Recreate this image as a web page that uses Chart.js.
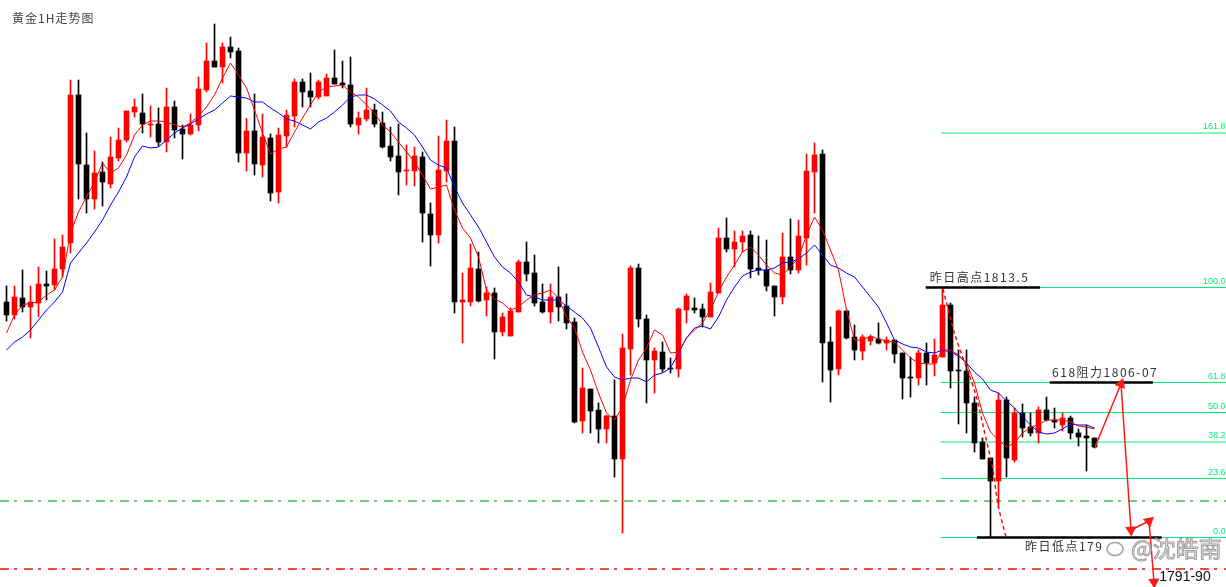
<!DOCTYPE html>
<html lang="zh">
<head>
<meta charset="utf-8">
<title>黄金1H走势图</title>
<script src="https://cdn.jsdelivr.net/npm/chart.js@4.4.1/dist/chart.umd.min.js"></script>
<style>
  html, body { margin: 0; padding: 0; background: #fff; }
  #wrap { position: relative; width: 1226px; height: 587px; }
</style>
</head>
<body>
<div id="wrap"><canvas id="goldChart"></canvas></div>
<script>
// hourly candles, oldest first
const opens = [
  1812.34, 1811.30, 1812.66, 1811.94, 1812.26, 1813.78, 1813.70, 1814.98, 1817.06, 1828.90,
  1823.30, 1820.58, 1822.74, 1821.78, 1823.86, 1825.30, 1827.54, 1827.46, 1826.50, 1826.58,
  1825.14, 1827.94, 1826.18, 1825.78, 1826.50, 1829.30, 1831.62, 1831.14, 1832.74, 1832.42,
  1824.26, 1826.02, 1823.30, 1825.46, 1821.14, 1825.62, 1827.22, 1829.94, 1829.22, 1828.74,
  1828.82, 1830.26, 1829.86, 1829.70, 1826.50, 1826.98, 1827.70, 1826.66, 1824.82, 1824.02,
  1822.82, 1822.82, 1823.94, 1819.38, 1817.70, 1822.82, 1825.22, 1812.34, 1812.34, 1814.98,
  1812.50, 1813.06, 1809.94, 1809.62, 1811.54, 1815.54, 1814.66, 1812.34, 1811.54, 1812.74,
  1812.02, 1810.74, 1802.82, 1805.38, 1803.70, 1802.18, 1803.22, 1799.78, 1808.58, 1815.06,
  1810.98, 1807.70, 1808.34, 1807.06, 1806.98, 1811.70, 1811.86, 1811.78, 1811.14, 1813.06,
  1817.46, 1816.58, 1817.14, 1817.70, 1815.06, 1814.90, 1813.62, 1812.74, 1815.94, 1814.90,
  1817.46, 1822.74, 1824.18, 1809.14, 1806.98, 1811.62, 1809.54, 1808.42, 1809.22, 1809.38,
  1809.06, 1809.30, 1808.26, 1806.34, 1806.26, 1808.26, 1807.46, 1807.94, 1812.10, 1806.90,
  1806.82, 1804.26, 1801.14, 1799.86, 1798.02, 1804.50, 1799.70, 1803.46, 1802.34, 1801.86,
  1803.70, 1802.90, 1802.50, 1803.06, 1801.86, 1801.62, 1801.46
];
const highs = [
  1813.62, 1813.62, 1814.90, 1813.62, 1815.14, 1814.82, 1817.38, 1817.70, 1830.10, 1830.10,
  1825.86, 1824.42, 1823.54, 1825.54, 1826.26, 1827.62, 1828.58, 1828.98, 1828.02, 1827.86,
  1829.46, 1828.42, 1826.50, 1827.38, 1830.34, 1833.06, 1834.58, 1833.06, 1833.54, 1832.66,
  1827.02, 1828.98, 1827.38, 1825.78, 1826.26, 1827.70, 1830.18, 1830.18, 1830.66, 1830.10,
  1830.58, 1832.50, 1831.62, 1831.94, 1827.54, 1829.46, 1828.18, 1827.54, 1826.34, 1826.58,
  1824.90, 1824.74, 1824.34, 1820.26, 1825.62, 1826.90, 1826.34, 1814.66, 1816.98, 1816.34,
  1813.54, 1813.46, 1811.46, 1811.86, 1815.70, 1817.14, 1816.10, 1813.78, 1813.78, 1815.14,
  1812.98, 1811.06, 1807.06, 1805.38, 1804.26, 1803.30, 1806.10, 1809.78, 1815.22, 1815.38,
  1811.30, 1808.66, 1809.14, 1807.86, 1811.86, 1812.98, 1812.66, 1812.18, 1813.86, 1818.26,
  1819.06, 1818.02, 1818.02, 1818.02, 1817.62, 1817.30, 1813.62, 1817.86, 1818.98, 1818.90,
  1824.18, 1825.06, 1824.50, 1810.34, 1811.70, 1811.70, 1810.50, 1809.70, 1809.70, 1810.66,
  1809.54, 1809.30, 1808.26, 1807.94, 1808.50, 1809.06, 1809.38, 1813.50, 1812.26, 1808.50,
  1808.50, 1804.74, 1801.46, 1799.86, 1805.06, 1804.74, 1803.86, 1804.18, 1803.46, 1803.94,
  1804.74, 1803.86, 1803.46, 1803.22, 1802.18, 1802.50, 1801.46
];
const lows = [
  1810.82, 1810.98, 1811.54, 1809.46, 1811.14, 1812.50, 1813.30, 1814.34, 1816.26, 1820.58,
  1819.46, 1819.78, 1820.02, 1821.46, 1823.62, 1825.14, 1827.14, 1825.86, 1825.54, 1824.82,
  1824.34, 1825.46, 1823.78, 1825.70, 1826.02, 1829.14, 1831.14, 1829.86, 1831.86, 1823.54,
  1822.82, 1822.50, 1822.34, 1820.42, 1820.26, 1824.74, 1826.34, 1827.94, 1827.94, 1828.58,
  1828.82, 1829.78, 1829.46, 1826.34, 1825.78, 1826.82, 1826.34, 1824.66, 1823.62, 1820.90,
  1821.70, 1821.62, 1817.14, 1815.22, 1817.06, 1821.94, 1811.46, 1809.06, 1812.02, 1812.34,
  1811.22, 1807.78, 1809.62, 1809.62, 1811.54, 1814.02, 1812.02, 1811.46, 1810.66, 1810.82,
  1810.18, 1802.66, 1801.86, 1801.86, 1801.06, 1801.06, 1798.34, 1793.86, 1806.50, 1810.34,
  1804.26, 1805.06, 1806.74, 1806.66, 1806.34, 1810.66, 1811.46, 1810.34, 1811.14, 1813.06,
  1816.34, 1815.14, 1816.34, 1814.26, 1814.50, 1813.22, 1811.22, 1812.18, 1814.58, 1814.66,
  1815.30, 1819.46, 1805.94, 1804.34, 1806.50, 1809.38, 1807.70, 1807.70, 1808.90, 1808.98,
  1808.50, 1807.46, 1804.58, 1804.74, 1805.70, 1805.70, 1806.42, 1807.94, 1805.46, 1802.58,
  1801.86, 1800.34, 1799.78, 1793.54, 1795.94, 1798.34, 1799.54, 1801.54, 1801.62, 1801.06,
  1802.82, 1802.26, 1802.02, 1801.38, 1800.82, 1798.82, 1800.66
];
const closes = [
  1811.30, 1812.74, 1811.94, 1812.34, 1813.78, 1813.62, 1814.98, 1816.74, 1828.90, 1823.38,
  1820.58, 1822.66, 1821.94, 1823.94, 1825.30, 1827.62, 1827.94, 1826.58, 1826.58, 1825.14,
  1827.94, 1826.10, 1825.78, 1826.50, 1829.38, 1831.62, 1831.14, 1832.74, 1832.34, 1824.26,
  1826.02, 1823.38, 1825.54, 1821.06, 1825.70, 1827.30, 1829.94, 1829.14, 1828.74, 1829.94,
  1830.26, 1829.78, 1829.70, 1826.58, 1827.06, 1827.70, 1826.58, 1824.74, 1823.94, 1822.74,
  1822.90, 1824.02, 1819.46, 1817.70, 1822.90, 1825.22, 1812.34, 1812.50, 1815.06, 1812.42,
  1813.06, 1809.94, 1811.14, 1811.62, 1815.54, 1814.58, 1812.26, 1811.54, 1812.74, 1811.94,
  1810.66, 1802.74, 1805.46, 1803.62, 1802.18, 1803.22, 1799.78, 1808.66, 1815.06, 1810.98,
  1807.70, 1808.42, 1806.98, 1806.98, 1811.78, 1812.82, 1811.70, 1811.14, 1813.14, 1817.46,
  1816.58, 1817.14, 1817.62, 1814.98, 1814.90, 1813.62, 1812.74, 1815.94, 1814.90, 1817.62,
  1822.82, 1824.10, 1809.06, 1806.90, 1811.62, 1809.46, 1808.50, 1809.54, 1809.54, 1809.06,
  1809.30, 1808.18, 1806.26, 1806.26, 1808.26, 1807.46, 1808.10, 1812.10, 1806.82, 1806.82,
  1804.26, 1801.06, 1799.78, 1798.02, 1804.50, 1799.86, 1803.46, 1802.26, 1801.86, 1803.70,
  1802.90, 1802.74, 1803.06, 1801.86, 1801.54, 1801.46, 1800.74
];

// moving averages as drawn on the chart
const maFast = [
  1809.86, 1811.30, 1812.10, 1812.26, 1812.34, 1812.90, 1813.30, 1814.34, 1817.86, 1819.54,
  1820.74, 1821.94, 1823.46, 1822.66, 1823.06, 1824.10, 1825.70, 1826.50, 1826.82, 1826.82,
  1826.74, 1826.50, 1826.34, 1826.66, 1827.22, 1827.94, 1828.90, 1830.26, 1831.46, 1830.50,
  1829.46, 1827.70, 1825.86, 1824.18, 1824.58, 1824.74, 1825.94, 1827.06, 1828.10, 1829.14,
  1829.54, 1829.62, 1829.70, 1829.14, 1828.74, 1828.10, 1827.46, 1826.50, 1825.94, 1825.14,
  1824.34, 1823.54, 1822.50, 1821.38, 1821.54, 1821.70, 1819.70, 1818.26, 1817.46, 1815.94,
  1813.30, 1812.58, 1812.26, 1811.70, 1811.94, 1812.50, 1812.90, 1813.06, 1813.30, 1812.66,
  1811.14, 1810.26, 1808.34, 1806.90, 1805.06, 1803.46, 1802.90, 1803.94, 1806.10, 1807.70,
  1808.66, 1810.10, 1809.70, 1808.26, 1808.34, 1809.46, 1810.10, 1810.66, 1811.70, 1813.14,
  1814.34, 1815.30, 1816.34, 1816.74, 1816.10, 1815.30, 1814.66, 1814.50, 1815.14, 1815.86,
  1817.70, 1819.14, 1818.10, 1816.50, 1814.90, 1811.70, 1809.30, 1809.30, 1809.62, 1809.38,
  1809.22, 1809.14, 1808.50, 1807.86, 1807.46, 1807.38, 1807.38, 1808.50, 1808.50, 1808.10,
  1807.46, 1805.86, 1803.46, 1801.94, 1801.30, 1800.74, 1801.06, 1801.86, 1802.34, 1802.50,
  1802.90, 1802.90, 1802.90, 1802.74, 1802.42, 1802.34, 1802.18
];
const maSlow = [
  1808.50, 1809.14, 1809.54, 1810.10, 1810.90, 1811.70, 1812.34, 1813.14, 1815.46, 1816.26,
  1817.06, 1817.94, 1818.90, 1820.10, 1821.14, 1822.34, 1823.94, 1824.82, 1824.66, 1824.74,
  1825.30, 1825.86, 1826.26, 1826.58, 1826.98, 1827.38, 1827.70, 1828.26, 1828.82, 1828.74,
  1828.66, 1828.34, 1828.34, 1827.86, 1827.46, 1826.98, 1826.82, 1826.50, 1826.18, 1826.74,
  1827.06, 1827.54, 1828.10, 1828.74, 1828.90, 1828.90, 1828.58, 1828.10, 1827.62, 1826.74,
  1826.26, 1825.70, 1824.74, 1823.70, 1823.30, 1823.06, 1821.54, 1820.26, 1819.30, 1818.34,
  1817.14, 1815.94, 1815.14, 1814.66, 1813.94, 1812.90, 1812.74, 1812.50, 1812.50, 1812.50,
  1812.02, 1811.54, 1811.06, 1810.26, 1808.74, 1807.14, 1806.34, 1806.10, 1806.26, 1806.26,
  1805.94, 1806.50, 1806.66, 1807.06, 1808.26, 1809.46, 1810.26, 1810.42, 1810.18, 1811.14,
  1812.50, 1813.54, 1814.42, 1814.74, 1814.90, 1814.90, 1815.06, 1815.46, 1815.54, 1815.78,
  1816.26, 1816.90, 1816.10, 1815.30, 1815.06, 1814.66, 1814.34, 1813.54, 1812.74, 1811.94,
  1810.66, 1809.30, 1808.98, 1808.74, 1808.66, 1808.34, 1808.26, 1808.50, 1808.34, 1808.02,
  1807.46, 1806.74, 1806.18, 1805.30, 1805.06, 1804.42, 1803.86, 1803.14, 1802.50, 1801.94,
  1801.78, 1801.86, 1802.18, 1802.58, 1802.50, 1802.50, 1802.26
];

// fibonacci retracement drawn from yesterday's high/low
const fibLabels = ["161.8", "100.0", "61.8", "50.0", "38.2", "23.6", "0.0"];
const fibPrices = [1825.86, 1813.5, 1805.9, 1803.5, 1801.14, 1798.22, 1793.5];
const fibStart = 116.8;

// marked levels (start candle, end candle, price)
const markFrom = [114.9, 130.4, 121.3];
const markTo = [129.2, 143.3, 144.4];
const markPrice = [1813.5, 1805.9, 1793.5];

// full-width dash-dot levels
const guidePrices = [1796.42, 1790.98];

// projected path and the dotted fall after the high
const pathIdx = [136.06, 139.31, 140.56, 142.81, 143.44];
const pathPrice = [1800.74, 1805.78, 1794.1, 1794.82, 1789.94];
const fallIdx = [117.06, 118.56, 121.06, 122.19, 123.31, 123.94, 124.94];
const fallPrice = [1813.38, 1809.7, 1805.14, 1802.1, 1798.9, 1796.1, 1793.54];

const noteTexts = ["昨日高点1813.5", "618阻力1806-07", "昨日低点179", "1791-90"];
const noteIdx = [115.4, 130.7, 127.3, 144.1];
const notePrice = [1813.5, 1805.9, 1793.5, 1790.34];

const UP = "#ff0000";
const DOWN = "#000000";
const FIB_GREEN = "#00f070";
const X_MIN = -0.8125;
const X_MAX = 152.4375;

const candleColors = closes.map((c, i) => (c >= opens[i] ? UP : DOWN));

function hLine(x0, x1, price) {
  return [{ x: x0, y: price }, { x: x1, y: price }];
}

function buildDatasets() {
  const sets = [];

  sets.push({
    type: "line",
    data: maFast.map((v, i) => ({ x: i, y: v })),
    borderColor: "#ff0000",
    borderWidth: 1,
    pointRadius: 0,
    tension: 0,
    order: 0
  });
  sets.push({
    type: "line",
    data: maSlow.map((v, i) => ({ x: i, y: v })),
    borderColor: "#0000ff",
    borderWidth: 1,
    pointRadius: 0,
    tension: 0,
    order: 0
  });

  sets.push({
    type: "line",
    data: pathIdx.map((x, i) => ({ x, y: pathPrice[i] })),
    borderColor: "#ff1a1a",
    backgroundColor: "#ff1a1a",
    borderWidth: 1.5,
    pointStyle: "triangle",
    pointRadius: [0, 5, 5, 5, 5],
    rotation: [0, 22, 177, 49, 177],
    tension: 0,
    clip: false,
    order: 0
  });
  sets.push({
    type: "line",
    data: fallIdx.map((x, i) => ({ x, y: fallPrice[i] })),
    borderColor: "#ff0000",
    borderWidth: 1.4,
    borderDash: [4, 3],
    pointRadius: 0,
    tension: 0.3,
    order: 0
  });

  // candle bodies and wicks
  sets.push({
    type: "bar",
    data: opens.map((o, i) => ({ x: i, y: [o, closes[i]] })),
    backgroundColor: candleColors,
    barThickness: 5,
    minBarLength: 1,
    grouped: false,
    order: 1
  });
  sets.push({
    type: "bar",
    data: lows.map((l, i) => ({ x: i, y: [l, highs[i]] })),
    backgroundColor: candleColors,
    barThickness: 1,
    grouped: false,
    order: 2
  });

  markPrice.forEach((p, i) => {
    sets.push({
      type: "line",
      data: hLine(markFrom[i], markTo[i], p),
      borderColor: "#000000",
      borderWidth: 2.5,
      pointRadius: 0,
      order: 1
    });
  });

  fibPrices.forEach((p) => {
    sets.push({
      type: "line",
      data: hLine(fibStart, X_MAX, p),
      borderColor: FIB_GREEN,
      borderWidth: 1.2,
      pointRadius: 0,
      order: 3
    });
  });

  const guideColors = ["#44bb44", "#ee1111"];
  guidePrices.forEach((p, i) => {
    sets.push({
      type: "line",
      data: hLine(X_MIN, X_MAX, p),
      borderColor: guideColors[i],
      borderWidth: 1.3,
      borderDash: [9, 5, 3, 7],
      pointRadius: 0,
      order: 4
    });
  });

  return sets;
}

const textPlugin = {
  id: "chartTexts",
  afterDatasetsDraw(chart) {
    const { ctx, chartArea } = chart;
    const x = chart.scales.x;
    const y = chart.scales.y;
    ctx.save();

    ctx.font = '9px "Liberation Sans", Arial, sans-serif';
    ctx.fillStyle = FIB_GREEN;
    ctx.textAlign = "right";
    ctx.textBaseline = "bottom";
    fibPrices.forEach((p, i) => {
      ctx.fillText(fibLabels[i], chartArea.right - 0.5, y.getPixelForValue(p) - 1.5);
    });

    ctx.textAlign = "left";
    ctx.fillStyle = "#333";
    ctx.font = '12px "Noto Sans CJK SC", sans-serif';
    ctx.letterSpacing = "1.5px";
    const place = ["above", "above", "below", "middle"];
    noteTexts.forEach((t, i) => {
      const px = x.getPixelForValue(noteIdx[i]);
      const py = y.getPixelForValue(notePrice[i]);
      if (place[i] === "above") {
        ctx.textBaseline = "bottom";
        ctx.fillText(t, px, py - 4);
      } else if (place[i] === "below") {
        ctx.textBaseline = "top";
        ctx.fillText(t, px, py + 3);
      } else {
        ctx.letterSpacing = "0px";
        ctx.fillStyle = "#111";
        ctx.font = '14px "Liberation Sans", Arial, sans-serif';
        ctx.textBaseline = "middle";
        ctx.fillText(t, px, py);
      }
    });

    // title
    ctx.letterSpacing = "1px";
    ctx.fillStyle = "#444";
    ctx.font = '12px "Noto Sans CJK SC", sans-serif';
    ctx.textBaseline = "middle";
    ctx.fillText("黄金1H走势图", 12, 18);

    // watermark, hollow grey lettering
    ctx.letterSpacing = "0px";
    ctx.strokeStyle = "rgba(130,130,130,0.75)";
    ctx.lineWidth = 1.5;
    ctx.beginPath();
    ctx.ellipse(1115, 549, 8, 6.5, 0, 0, Math.PI * 2);
    ctx.stroke();
    ctx.font = '23px "Noto Sans CJK SC", sans-serif';
    ctx.fillStyle = "rgba(235,235,235,0.75)";
    ctx.fillText("@沈皓南", 1131, 548);
    ctx.lineWidth = 1;
    ctx.strokeText("@沈皓南", 1131, 548);

    ctx.restore();
  }
};

function initChart() {
  const canvas = document.getElementById("goldChart");
  return new Chart(canvas.getContext("2d"), {
    type: "bar",
    data: { datasets: buildDatasets() },
    options: {
      responsive: true,
      maintainAspectRatio: false,
      animation: false,
      layout: { padding: 0, autoPadding: false },
      plugins: { legend: { display: false }, tooltip: { enabled: false } },
      scales: {
        x: { type: "linear", display: false, offset: false, min: X_MIN, max: X_MAX },
        y: { type: "linear", display: false, beginAtZero: false, min: 1789.54, max: 1836.5 }
      }
    },
    plugins: [textPlugin]
  });
}

initChart();
</script>
</body>
</html>
